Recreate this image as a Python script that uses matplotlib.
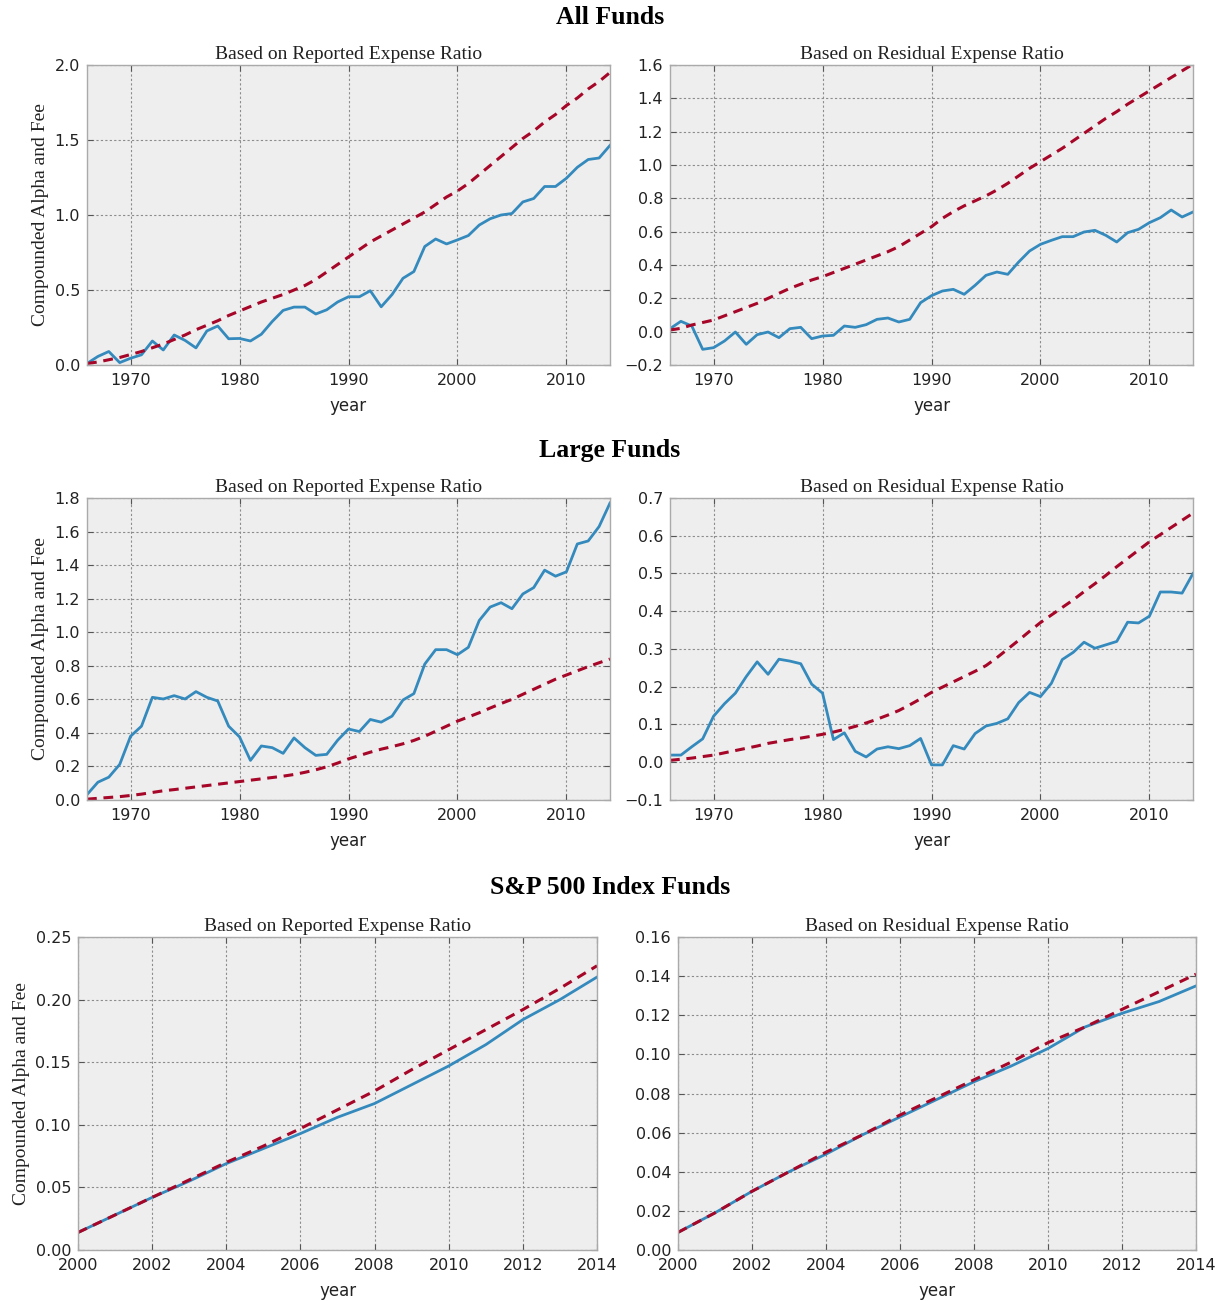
import matplotlib
matplotlib.use("Agg")
import matplotlib.pyplot as plt
import numpy as np

# ---------------- data ----------------
years_long = list(range(1966, 2015))
years_sp = list(range(2000, 2015))

all_rep_alpha = [0.01, 0.057, 0.09, 0.016, 0.045, 0.068, 0.16, 0.10, 0.20, 0.164,
                 0.114, 0.227, 0.26, 0.175, 0.177, 0.16, 0.205, 0.29, 0.364, 0.386,
                 0.386, 0.34, 0.368, 0.42, 0.455, 0.455, 0.495, 0.388, 0.47, 0.578,
                 0.623, 0.79, 0.84, 0.807, 0.834, 0.863, 0.933, 0.975, 1.0, 1.01,
                 1.087, 1.11, 1.19, 1.19, 1.245, 1.318, 1.37, 1.38, 1.464]
all_rep_fee = [0.01, 0.02, 0.035, 0.05, 0.07, 0.09, 0.115, 0.14, 0.17, 0.2,
               0.235, 0.265, 0.295, 0.33, 0.36, 0.39, 0.42, 0.445, 0.47, 0.5,
               0.53, 0.57, 0.62, 0.67, 0.72, 0.77, 0.82, 0.86, 0.9, 0.94,
               0.98, 1.02, 1.07, 1.12, 1.16, 1.21, 1.27, 1.33, 1.39, 1.45,
               1.51, 1.56, 1.62, 1.67, 1.73, 1.78, 1.84, 1.89, 1.95]

all_res_alpha = [0.018, 0.062, 0.034, -0.106, -0.096, -0.056, -0.002, -0.076, -0.018, -0.002,
                 -0.036, 0.018, 0.026, -0.042, -0.026, -0.022, 0.034, 0.026, 0.042, 0.074,
                 0.082, 0.058, 0.074, 0.174, 0.216, 0.244, 0.254, 0.224, 0.278, 0.338,
                 0.358, 0.344, 0.418, 0.484, 0.524, 0.548, 0.57, 0.57, 0.598, 0.608,
                 0.578, 0.538, 0.594, 0.614, 0.654, 0.684, 0.73, 0.688, 0.718]
all_res_fee = [0.01, 0.02, 0.04, 0.055, 0.07, 0.095, 0.12, 0.145, 0.17, 0.2,
               0.23, 0.26, 0.285, 0.31, 0.33, 0.355, 0.38, 0.405, 0.43, 0.455,
               0.48, 0.51, 0.55, 0.59, 0.63, 0.68, 0.72, 0.755, 0.785, 0.815,
               0.85, 0.89, 0.935, 0.98, 1.02, 1.06, 1.1, 1.145, 1.19, 1.235,
               1.28, 1.32, 1.365, 1.405, 1.445, 1.485, 1.525, 1.565, 1.605]

large_rep_alpha = [0.032, 0.106, 0.136, 0.212, 0.38, 0.44, 0.612, 0.602, 0.622, 0.602,
                   0.646, 0.612, 0.59, 0.44, 0.376, 0.236, 0.322, 0.312, 0.278, 0.37,
                   0.312, 0.266, 0.272, 0.356, 0.423, 0.408, 0.48, 0.464, 0.5, 0.596,
                   0.634, 0.81, 0.896, 0.896, 0.866, 0.91, 1.07, 1.15, 1.176, 1.14,
                   1.228, 1.266, 1.37, 1.334, 1.36, 1.526, 1.544, 1.63, 1.77]
large_rep_fee = [0.005, 0.01, 0.015, 0.02, 0.027, 0.035, 0.045, 0.055, 0.062, 0.07,
                 0.078, 0.086, 0.094, 0.102, 0.11, 0.118, 0.126, 0.134, 0.142, 0.152,
                 0.165, 0.18, 0.198, 0.22, 0.245, 0.265, 0.285, 0.303, 0.318, 0.335,
                 0.355, 0.38, 0.41, 0.44, 0.47, 0.495, 0.52, 0.548, 0.575, 0.6,
                 0.63, 0.66, 0.69, 0.72, 0.745, 0.77, 0.795, 0.818, 0.84]

large_res_alpha = [0.019, 0.019, 0.041, 0.062, 0.122, 0.155, 0.183, 0.227, 0.266, 0.233,
                   0.273, 0.268, 0.261, 0.207, 0.183, 0.06, 0.078, 0.029, 0.014, 0.035,
                   0.041, 0.036, 0.044, 0.063, -0.007, -0.007, 0.044, 0.035, 0.076, 0.096,
                   0.103, 0.115, 0.158, 0.185, 0.174, 0.209, 0.272, 0.291, 0.318, 0.302,
                   0.311, 0.32, 0.371, 0.369, 0.387, 0.451, 0.451, 0.448, 0.5]
large_res_fee = [0.005, 0.008, 0.011, 0.015, 0.019, 0.025, 0.031, 0.037, 0.043, 0.05,
                 0.055, 0.06, 0.064, 0.069, 0.074, 0.08, 0.087, 0.095, 0.104, 0.114,
                 0.125, 0.137, 0.152, 0.168, 0.185, 0.199, 0.213, 0.227, 0.241, 0.256,
                 0.277, 0.3, 0.323, 0.347, 0.37, 0.39, 0.41, 0.43, 0.452, 0.473,
                 0.495, 0.518, 0.54, 0.562, 0.584, 0.603, 0.622, 0.641, 0.66]

sp_rep_alpha = [0.014, 0.028, 0.042, 0.055, 0.069, 0.081, 0.093, 0.106, 0.117,
                0.132, 0.147, 0.164, 0.184, 0.2, 0.218]
sp_rep_fee = [0.014, 0.028, 0.042, 0.056, 0.07, 0.083, 0.097, 0.112, 0.127,
              0.144, 0.16, 0.176, 0.192, 0.209, 0.227]
sp_res_alpha = [0.009, 0.019, 0.03, 0.04, 0.049, 0.059, 0.068, 0.077, 0.086,
                0.094, 0.103, 0.114, 0.121, 0.127, 0.135]
sp_res_fee = [0.009, 0.019, 0.03, 0.04, 0.05, 0.059, 0.069, 0.078, 0.087,
              0.096, 0.106, 0.114, 0.123, 0.132, 0.141]

section_titles = ["All Funds", "Large Funds", "S&P 500 Index Funds"]
panel_titles = ["Based on Reported Expense Ratio", "Based on Residual Expense Ratio"]

# ---------------- style ----------------
W, H = 1225, 1301
fig = plt.figure(figsize=(W / 100, H / 100), dpi=100)
BLUE = "#348ABD"
RED = "#A60628"
SERIF = "Liberation Serif"


def make_ax(l, t, r, b):
    return fig.add_axes([l / W, 1 - b / H, (r - l) / W, (b - t) / H])


def style(ax):
    ax.set_facecolor("#EEEEEE")
    for s in ax.spines.values():
        s.set_color("#AAAAAA")
        s.set_linewidth(1.0)
    ax.grid(True, linestyle=(0, (2, 2)), color="#8C8C8C", linewidth=0.8)
    ax.set_axisbelow(True)
    ax.tick_params(direction="in", length=4, width=0.8, color="#555555",
                   top=True, right=True, labelsize=11.5, labelcolor="#222222")
    ax.tick_params(axis="x", pad=6)
    ax.tick_params(axis="y", pad=5)


panels = [
    ((87, 65, 610, 365), years_long, all_rep_alpha, all_rep_fee, (1966, 2014),
     [1970, 1980, 1990, 2000, 2010], (0, 2.0), np.arange(0, 2.01, 0.5), "{:.1f}", 0, True),
    ((670, 65, 1193, 365), years_long, all_res_alpha, all_res_fee, (1966, 2014),
     [1970, 1980, 1990, 2000, 2010], (-0.2, 1.6), np.arange(-0.2, 1.61, 0.2), "{:.1f}", 1, False),
    ((87, 498, 610, 800), years_long, large_rep_alpha, large_rep_fee, (1966, 2014),
     [1970, 1980, 1990, 2000, 2010], (0, 1.8), np.arange(0, 1.81, 0.2), "{:.1f}", 0, True),
    ((670, 498, 1193, 800), years_long, large_res_alpha, large_res_fee, (1966, 2014),
     [1970, 1980, 1990, 2000, 2010], (-0.1, 0.7), np.arange(-0.1, 0.71, 0.1), "{:.1f}", 1, False),
    ((78, 937, 597, 1250), years_sp, sp_rep_alpha, sp_rep_fee, (2000, 2014),
     list(range(2000, 2015, 2)), (0, 0.25), np.arange(0, 0.251, 0.05), "{:.2f}", 0, True),
    ((678, 937, 1196, 1250), years_sp, sp_res_alpha, sp_res_fee, (2000, 2014),
     list(range(2000, 2015, 2)), (0, 0.16), np.arange(0, 0.161, 0.02), "{:.2f}", 1, False),
]

for rect, x, a, f, xlim, xt, ylim, yt, fmt, ti, show_yl in panels:
    ax = make_ax(*rect)
    style(ax)
    ax.plot(x, a, color=BLUE, linewidth=2.0, solid_joinstyle="round")
    ax.plot(x, f, color=RED, linewidth=2.2, linestyle=(0, (3.2, 2.2)))
    ax.set_xlim(*xlim)
    ax.set_ylim(*ylim)
    ax.set_xticks(xt)
    ax.set_yticks(yt)
    ax.set_yticklabels([fmt.format(v).replace("-", "\u2212") if abs(v) > 1e-9 else fmt.format(0.0) for v in yt])
    ax.set_title(panel_titles[ti], fontfamily=SERIF, fontsize=14, pad=4, color="#222222")
    ax.set_xlabel("year", fontsize=12, color="#222222", labelpad=6)
    if show_yl:
        ax.set_ylabel("Compounded Alpha and Fee", fontfamily=SERIF, fontsize=14, color="#222222")

for txt, y in zip(section_titles, [17, 451, 888]):
    fig.text(610 / W, 1 - y / H, txt, ha="center", va="center", fontfamily=SERIF,
             fontweight="bold", fontsize=18.5)

fig.savefig("out.png", dpi=100)
